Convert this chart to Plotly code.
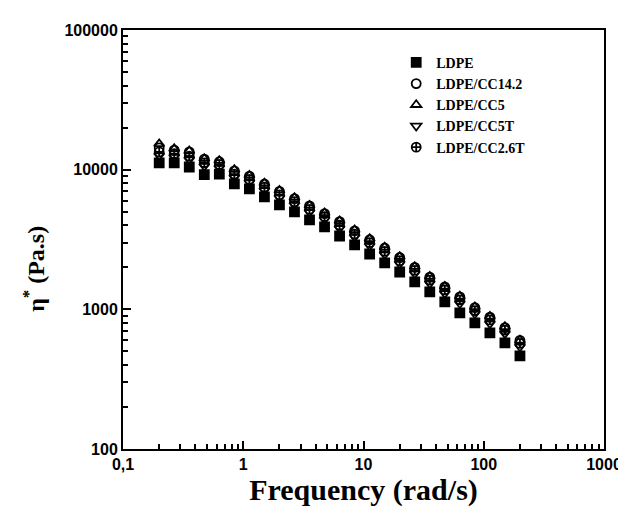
import plotly.graph_objects as go

freq = [0.2, 0.2667, 0.3557, 0.4743, 0.6325, 0.8434, 1.125, 1.5, 2.0, 2.667,
        3.557, 4.743, 6.325, 8.434, 11.25, 15.0, 20.0, 26.67, 35.57, 47.43,
        63.25, 84.34, 112.5, 150.0, 200.0]

ldpe = [11170, 11170, 10450, 9200, 9300, 7900, 7280, 6380, 5590, 4980,
        4365, 3890, 3350, 2890, 2490, 2150, 1850, 1570, 1333, 1130,
        942, 800, 678, 575, 464]
cc14_2 = [14300, 13800, 13400, 11900, 11400, 9800, 9000, 7900, 7000, 6200,
          5500, 4850, 4250, 3650, 3150, 2750, 2350, 2000, 1700, 1450,
          1230, 1030, 880, 740, 600]
cc5 = [15300, 14100, 13600, 12000, 11600, 10000, 9100, 8000, 7100, 6300,
       5550, 4900, 4300, 3700, 3200, 2780, 2380, 2020, 1720, 1460,
       1240, 1040, 890, 750, 600]
cc5t = [12600, 12300, 11800, 10600, 10300, 8800, 8100, 7100, 6300, 5600,
        4950, 4400, 3800, 3300, 2850, 2470, 2120, 1800, 1530, 1300,
        1100, 930, 790, 670, 540]
cc2_6t = [13400, 13000, 12500, 11200, 10900, 9300, 8500, 7500, 6600, 5900,
          5200, 4600, 4000, 3450, 3000, 2600, 2230, 1900, 1620, 1380,
          1170, 980, 840, 710, 570]

names = ["LDPE", "LDPE/CC14.2", "LDPE/CC5", "LDPE/CC5T", "LDPE/CC2.6T"]
series = [ldpe, cc14_2, cc5, cc5t, cc2_6t]
symbols = ["square", "circle-open", "triangle-up-open", "triangle-down-open", "circle-cross-open"]

x_tickvals = [0.1, 1, 10, 100, 1000]
x_ticktext = ["0,1", "1", "10", "100", "1000"]
y_tickvals = [100, 1000, 10000, 100000]
y_ticktext = ["100", "1000", "10000", "100000"]
x_minor = [m * d for d in [0.1, 1, 10, 100] for m in range(2, 10)]
y_minor = [m * d for d in [100, 1000, 10000] for m in range(2, 10)]

fig = go.Figure()
for name, vals, sym in zip(names, series, symbols):
    fig.add_trace(go.Scatter(
        x=freq, y=vals, mode="markers", name=name,
        marker=dict(symbol=sym, size=9, color="black",
                    line=dict(color="black", width=1.8)),
    ))

tickfont = dict(family="Liberation Sans, Arial", size=16, color="black", weight="bold")
serif = "Liberation Serif, Times New Roman"
axcommon = dict(
    type="log", showline=True, linecolor="black", linewidth=2, mirror=True,
    ticks="inside", ticklen=8, tickwidth=2, tickcolor="black",
    showgrid=False, zeroline=False, tickfont=tickfont,
    tickmode="array",
)

fig.update_layout(
    width=626, height=515,
    margin=dict(l=115, r=19, t=22, b=74),
    paper_bgcolor="white", plot_bgcolor="white",
    showlegend=True,
    legend=dict(x=0.568, y=0.96, xanchor="left", yanchor="top",
                bgcolor="rgba(0,0,0,0)", tracegroupgap=0,
                font=dict(family=serif, size=14, color="black", weight="bold")),
    xaxis=dict(axcommon, range=[-1, 3], tickvals=x_tickvals, ticktext=x_ticktext,
               minor=dict(tickmode="array", tickvals=x_minor, ticks="inside", ticklen=5,
                          tickwidth=1.5, tickcolor="black", showgrid=False),
               title=dict(text="Frequency (rad/s)", standoff=6,
                          font=dict(family=serif, size=30, color="black", weight="bold"))),
    yaxis=dict(axcommon, range=[2, 5], tickvals=y_tickvals, ticktext=y_ticktext,
               minor=dict(tickmode="array", tickvals=y_minor, ticks="inside", ticklen=5,
                          tickwidth=1.5, tickcolor="black", showgrid=False)),
    annotations=[dict(
        text="η<sup>*</sup> (Pa.s)", textangle=-90, showarrow=False,
        xref="paper", yref="paper", x=-0.185, y=0.43,
        xanchor="center", yanchor="middle",
        font=dict(family=serif, size=24, color="black", weight="bold"),
    )],
)

fig.write_html("out.html")
